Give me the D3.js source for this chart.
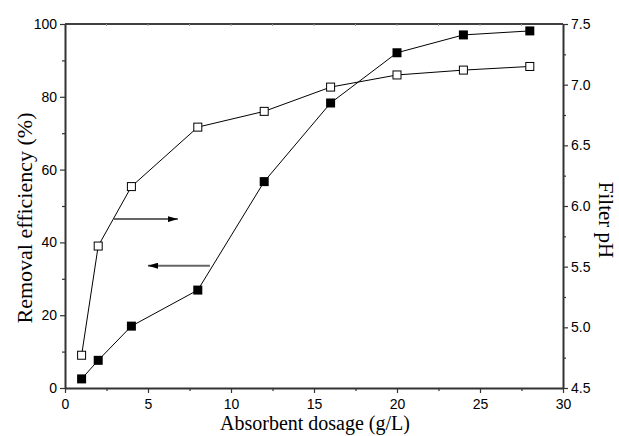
<!DOCTYPE html>
<html><head><meta charset="utf-8">
<script src="https://cdn.jsdelivr.net/npm/d3@7"></script>
<style>body{margin:0;background:#fff}svg{display:block}</style>
</head><body><svg id="c" width="619" height="436"></svg>
<script>
const dosage = [1, 2, 4, 8, 12, 16, 20, 24, 28];
const removalEfficiency = [2.5, 7.6, 17.0, 26.9, 56.7, 78.3, 92.1, 97.0, 98.1];
const filterPH = [4.77, 5.67, 6.16, 6.65, 6.78, 6.98, 7.08, 7.12, 7.15];
const xTicks = [0, 5, 10, 15, 20, 25, 30];
const yLeftTicks = [0, 20, 40, 60, 80, 100];
const yRightTicks = [4.5, 5.0, 5.5, 6.0, 6.5, 7.0, 7.5];

const svg = d3.select("#c");
const L = 65, R = 563, T = 24, B = 388;
const x = d3.scaleLinear().domain([0, 30]).range([L, R]);
const yL = d3.scaleLinear().domain([0, 100]).range([B, T]);
const yR = d3.scaleLinear().domain([4.5, 7.5]).range([B, T]);

const tickFont = "Liberation Sans, Arial, sans-serif";
const serif = "Liberation Serif, Times New Roman, serif";

// Top axis (thin)
svg.append("line").attr("x1", L).attr("x2", R).attr("y1", T).attr("y2", T).attr("stroke", "#000").attr("stroke-width", 1.3);
d3.range(2.5, 30, 2.5).forEach(v => {
  svg.append("line").attr("x1", x(v)).attr("x2", x(v)).attr("y1", T).attr("y2", T + 2).attr("stroke", "#999").attr("stroke-width", 1);
});

function styleAxis(g) {
  g.selectAll("path.domain").attr("stroke", "#333").attr("stroke-width", 2);
  g.selectAll(".tick line").attr("stroke", "#333").attr("stroke-width", 1.2);
  g.selectAll(".tick text").attr("font-family", tickFont).attr("font-size", 14).attr("fill", "#000");
}

// Bottom axis
const gx = svg.append("g").attr("transform", `translate(0,${B})`)
  .call(d3.axisBottom(x).tickValues(xTicks).tickSize(5).tickPadding(6).tickSizeOuter(0));
styleAxis(gx);
svg.append("g").attr("transform", `translate(0,${B})`)
  .call(d3.axisBottom(x).tickValues(d3.range(2.5, 30, 5)).tickSize(3).tickFormat(""))
  .call(g => { g.select(".domain").remove(); g.selectAll("line").attr("stroke", "#333").attr("stroke-width", 1.2); });

// Left axis
const gl = svg.append("g").attr("transform", `translate(${L},0)`)
  .call(d3.axisLeft(yL).tickValues(yLeftTicks).tickSize(5).tickPadding(3).tickSizeOuter(0));
styleAxis(gl);
svg.append("g").attr("transform", `translate(${L},0)`)
  .call(d3.axisLeft(yL).tickValues(d3.range(10, 100, 20)).tickSize(3).tickFormat(""))
  .call(g => { g.select(".domain").remove(); g.selectAll("line").attr("stroke", "#333").attr("stroke-width", 1.2); });

// Right axis
const gr = svg.append("g").attr("transform", `translate(${R},0)`)
  .call(d3.axisRight(yR).tickValues(yRightTicks).tickSize(5).tickPadding(3).tickSizeOuter(0).tickFormat(d3.format(".1f")));
styleAxis(gr);
svg.append("g").attr("transform", `translate(${R},0)`)
  .call(d3.axisRight(yR).tickValues(d3.range(4.75, 7.5, 0.5)).tickSize(3).tickFormat(""))
  .call(g => { g.select(".domain").remove(); g.selectAll("line").attr("stroke", "#333").attr("stroke-width", 1.2); });

// Lines
const lineL = d3.line().x((d, i) => x(dosage[i])).y(d => yL(d));
const lineR = d3.line().x((d, i) => x(dosage[i])).y(d => yR(d));
svg.append("path").attr("d", lineR(filterPH)).attr("fill", "none").attr("stroke", "#000").attr("stroke-width", 1);
svg.append("path").attr("d", lineL(removalEfficiency)).attr("fill", "none").attr("stroke", "#000").attr("stroke-width", 1);

// Markers
const sF = 9, sO = 8;
svg.selectAll("rect.f").data(removalEfficiency).enter().append("rect")
  .attr("x", (d, i) => x(dosage[i]) - sF / 2).attr("y", d => yL(d) - sF / 2)
  .attr("width", sF).attr("height", sF).attr("fill", "#000");
svg.selectAll("rect.o").data(filterPH).enter().append("rect")
  .attr("x", (d, i) => x(dosage[i]) - sO / 2).attr("y", d => yR(d) - sO / 2)
  .attr("width", sO).attr("height", sO).attr("fill", "#fff").attr("stroke", "#000").attr("stroke-width", 1);

// Arrows
const defs = svg.append("defs");
defs.append("marker").attr("id", "ah").attr("viewBox", "0 0 10 6").attr("refX", 10).attr("refY", 3)
  .attr("markerWidth", 10).attr("markerHeight", 6).attr("markerUnits", "userSpaceOnUse").attr("orient", "auto")
  .append("path").attr("d", "M0,0 L10,3 L0,6 Z").attr("fill", "#000");
svg.append("line").attr("x1", x(2.95)).attr("x2", x(6.8)).attr("y1", yL(46.4)).attr("y2", yL(46.4))
  .attr("stroke", "#666").attr("stroke-width", 2).attr("marker-end", "url(#ah)");
svg.append("line").attr("x1", x(8.73)).attr("x2", x(5.0)).attr("y1", yL(33.6)).attr("y2", yL(33.6))
  .attr("stroke", "#666").attr("stroke-width", 2).attr("marker-end", "url(#ah)");

// Axis titles
svg.append("text").attr("x", 315).attr("y", 430).attr("text-anchor", "middle")
  .attr("font-family", serif).attr("font-size", 20).text("Absorbent dosage (g/L)");
svg.append("text").attr("transform", "translate(32,218) rotate(-90)").attr("text-anchor", "middle")
  .attr("font-family", serif).attr("font-size", 22).text("Removal efficiency (%)");
svg.append("text").attr("transform", "translate(599,220) rotate(90)").attr("text-anchor", "middle")
  .attr("font-family", serif).attr("font-size", 21).text("Filter pH");
</script></body></html>
